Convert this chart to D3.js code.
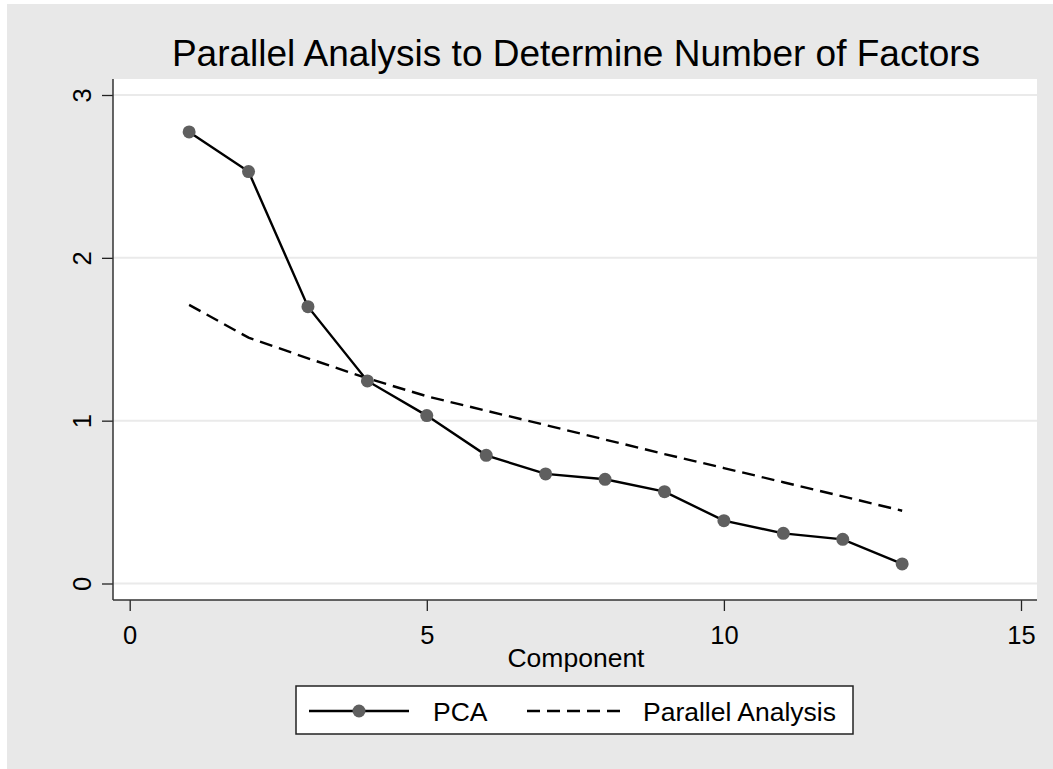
<!DOCTYPE html>
<html>
<head>
<meta charset="utf-8">
<script src="https://cdn.jsdelivr.net/npm/d3@7"></script>
<style>
  body { margin: 0; background: #fff; }
  svg text { font-family: Arial, "Liberation Sans", sans-serif; fill: #000; }
</style>
</head>
<body>
<svg id="chart" width="1053" height="769"></svg>
<script>
// data
var components = [1, 2, 3, 4, 5, 6, 7, 8, 9, 10, 11, 12, 13];
var pcaValues = [2.773, 2.530, 1.700, 1.244, 1.031, 0.787, 0.673, 0.640, 0.564, 0.386, 0.308, 0.271, 0.120];
var paValues = [1.711, 1.510, 1.383, 1.260, 1.150, 1.061, 0.973, 0.884, 0.795, 0.709, 0.622, 0.535, 0.447];
var xTicks = [0, 5, 10, 15];
var yTicks = [0, 1, 2, 3];

var svg = d3.select("#chart");

// outer grey frame
svg.append("rect")
    .attr("x", 7).attr("y", 4)
    .attr("width", 1046).attr("height", 765)
    .attr("fill", "#e8e8e8");

var plot = { left: 113, right: 1037, top: 79, bottom: 600 };

svg.append("rect")
    .attr("x", plot.left).attr("y", plot.top)
    .attr("width", plot.right - plot.left).attr("height", plot.bottom - plot.top)
    .attr("fill", "#fff");

var x = d3.scaleLinear().domain([0, 15]).range([129.7, 1021]);
var y = d3.scaleLinear().domain([0, 3]).range([583.5, 95]);

// gridlines
svg.append("g")
  .selectAll("line")
  .data(yTicks)
  .join("line")
    .attr("x1", plot.left).attr("x2", plot.right)
    .attr("y1", d => y(d)).attr("y2", d => y(d))
    .attr("stroke", "#eaeaea")
    .attr("stroke-width", 2);

// axes
var xAxis = svg.append("g")
    .attr("transform", `translate(0,${plot.bottom})`)
    .call(d3.axisBottom(x).tickValues(xTicks).tickFormat(d3.format("d")).tickSize(11).tickPadding(15));
xAxis.select(".domain").remove();
xAxis.selectAll(".tick line").attr("stroke", "#222").attr("stroke-width", 1.3);
xAxis.selectAll(".tick text").attr("font-size", 25.5).attr("font-family", "Arial, 'Liberation Sans', sans-serif").attr("fill", "#000");

var yAxis = svg.append("g")
    .attr("transform", `translate(${plot.left},0)`)
    .call(d3.axisLeft(y).tickValues(yTicks).tickFormat(d3.format("d")).tickSize(11));
yAxis.select(".domain").remove();
yAxis.selectAll(".tick line").attr("stroke", "#222").attr("stroke-width", 1.3);
yAxis.selectAll(".tick text")
    .attr("font-size", 25.5)
    .attr("font-family", "Arial, 'Liberation Sans', sans-serif")
    .attr("fill", "#000")
    .attr("x", null).attr("dy", null)
    .attr("text-anchor", "middle")
    .attr("transform", "translate(-22,0) rotate(-90)");

svg.append("line")
    .attr("x1", plot.left).attr("x2", plot.left)
    .attr("y1", plot.top).attr("y2", plot.bottom)
    .attr("stroke", "#333").attr("stroke-width", 1.5);
svg.append("line")
    .attr("x1", plot.left).attr("x2", plot.right)
    .attr("y1", plot.bottom).attr("y2", plot.bottom)
    .attr("stroke", "#333").attr("stroke-width", 1.5);

// series
var line = d3.line().x(d => x(d[0])).y(d => y(d[1]));
var pca = components.map((c, i) => [c, pcaValues[i]]);
var pa = components.map((c, i) => [c, paValues[i]]);

svg.append("path")
    .datum(pa)
    .attr("d", line)
    .attr("fill", "none")
    .attr("stroke", "#000")
    .attr("stroke-width", 2.4)
    .attr("stroke-dasharray", "13,7");

svg.append("path")
    .datum(pca)
    .attr("d", line)
    .attr("fill", "none")
    .attr("stroke", "#000")
    .attr("stroke-width", 2.4);

svg.append("g")
  .selectAll("circle")
  .data(pca)
  .join("circle")
    .attr("cx", d => x(d[0]))
    .attr("cy", d => y(d[1]))
    .attr("r", 6.5)
    .attr("fill", "#5f5f5f");

// titles
svg.append("text")
    .attr("x", 576).attr("y", 66)
    .attr("text-anchor", "middle")
    .attr("font-size", 37)
    .text("Parallel Analysis to Determine Number of Factors");

svg.append("text")
    .attr("x", 576).attr("y", 667)
    .attr("text-anchor", "middle")
    .attr("font-size", 26.5)
    .text("Component");

// legend
var legend = svg.append("g");
legend.append("rect")
    .attr("x", 296).attr("y", 686)
    .attr("width", 557).attr("height", 48)
    .attr("fill", "#fff")
    .attr("stroke", "#222").attr("stroke-width", 1.5);
legend.append("line")
    .attr("x1", 309).attr("x2", 409).attr("y1", 711).attr("y2", 711)
    .attr("stroke", "#000").attr("stroke-width", 2.4);
legend.append("circle")
    .attr("cx", 359).attr("cy", 711).attr("r", 6.5).attr("fill", "#5f5f5f");
legend.append("text")
    .attr("x", 433).attr("y", 721).attr("font-size", 26.5).text("PCA");
legend.append("line")
    .attr("x1", 527).attr("x2", 627).attr("y1", 711).attr("y2", 711)
    .attr("stroke", "#000").attr("stroke-width", 2.4)
    .attr("stroke-dasharray", "13,7");
legend.append("text")
    .attr("x", 643).attr("y", 721).attr("font-size", 26.5).text("Parallel Analysis");
</script>
</body>
</html>
